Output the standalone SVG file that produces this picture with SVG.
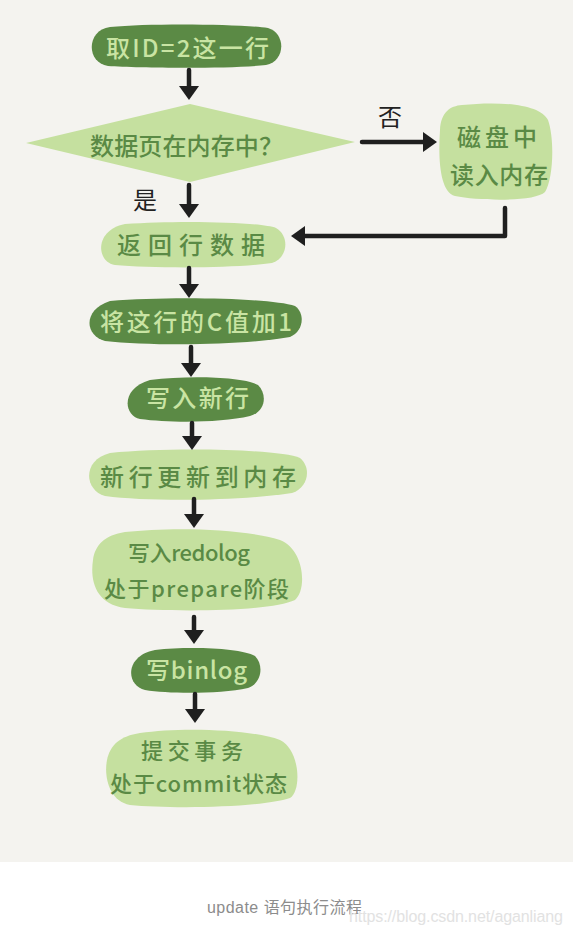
<svg xmlns="http://www.w3.org/2000/svg" width="573" height="936" viewBox="0 0 573 936">
<style>
.dark{fill:#5b8a45}
.light{fill:#c5e09f}
.tl{fill:#c9e4a3;font-family:"Noto Sans CJK SC","Noto Sans",sans-serif;font-size:24px;font-weight:500}
.td{fill:#5a8a45;font-family:"Noto Sans CJK SC","Noto Sans",sans-serif;font-size:24px;font-weight:500}
.sm{font-size:22px}
.lbl{fill:#222;font-family:"Noto Sans CJK SC",sans-serif;font-size:24px}
.conn{fill:none;stroke:#1f1f1f;stroke-width:4.5;stroke-linecap:round;stroke-linejoin:round}
</style>
<defs>
<marker id="ah" viewBox="0 0 14 20" markerWidth="14" markerHeight="20" refX="2" refY="10" markerUnits="userSpaceOnUse" orient="auto">
<path d="M0,0 L14,10 L0,20 Z" fill="#1f1f1f"/>
</marker>
</defs>
<rect x="0" y="0" width="573" height="936" fill="#ffffff"/>
<rect x="0" y="0" width="573" height="862" fill="#f4f3ef"/>

<g id="n1">
<path class="dark" d="M110,27 C150,23 240,24 268,28 C286,33 286,61 266,65 C230,69 140,68 108,66 C86,63 86,30 110,27 Z"/>
<text class="tl" x="106" y="57" textLength="163" lengthAdjust="spacing">取ID=2这一行</text>
</g>
<g id="n2">
<path class="light" d="M26,143 L190,104 L355,142 L190,182 Z"/>
<text class="td" x="90" y="155" textLength="193" lengthAdjust="spacing">数据页在内存中？</text>
</g>
<g id="n3">
<path class="light" d="M462,105 C500,101 540,104 548,120 C555,140 553,180 545,192 C535,202 480,201 455,196 C440,192 438,160 440,130 C441,112 450,106 462,105 Z"/>
<text class="td" x="457" y="146" textLength="80" lengthAdjust="spacing">磁盘中</text>
<text class="td" x="450" y="184" textLength="98" lengthAdjust="spacing">读入内存</text>
</g>
<g id="n4">
<path class="light" d="M125,224 C180,220 260,222 276,228 C290,236 288,258 272,263 C230,269 150,268 115,265 C96,262 94,230 125,224 Z"/>
<text class="td" x="117" y="254" textLength="148" lengthAdjust="spacing">返回行数据</text>
</g>
<g id="n5">
<path class="dark" d="M110,301 C170,296 270,298 295,306 C306,314 303,332 290,337 C240,346 150,346 105,341 C85,336 82,310 110,301 Z"/>
<text class="tl" x="100" y="331" textLength="192" lengthAdjust="spacing">将这行的C值加1</text>
</g>
<g id="n6">
<path class="dark" d="M150,380 C190,375 245,377 258,385 C268,395 265,412 250,416 C220,423 170,423 140,419 C123,415 121,388 150,380 Z"/>
<text class="tl" x="146" y="407" textLength="103" lengthAdjust="spacing">写入新行</text>
</g>
<g id="n7">
<path class="light" d="M110,453 C170,447 280,449 300,458 C312,468 308,488 292,493 C240,501 150,502 105,496 C84,490 82,460 110,453 Z"/>
<text class="td" x="100" y="486" textLength="196" lengthAdjust="spacing">新行更新到内存</text>
</g>
<g id="n8">
<path class="light" d="M125,532 C170,527 240,528 280,540 C305,550 307,590 295,600 C270,612 170,612 125,608 C95,604 90,580 93,560 C95,545 105,535 125,532 Z"/>
<text class="td sm" x="128" y="561" textLength="122" lengthAdjust="spacing">写入redolog</text>
<text class="td sm" x="104" y="597" textLength="185" lengthAdjust="spacing">处于prepare阶段</text>
</g>
<g id="n9">
<path class="dark" d="M155,650 C190,646 240,648 255,656 C264,665 262,683 248,688 C220,694 170,694 145,690 C126,686 124,656 155,650 Z"/>
<text class="tl" x="146" y="679" textLength="101" lengthAdjust="spacing">写binlog</text>
</g>
<g id="n10">
<path class="light" d="M140,733 C180,727 250,729 280,740 C300,750 302,790 290,798 C260,808 170,809 130,805 C108,801 104,775 107,760 C110,745 120,736 140,733 Z"/>
<text class="td sm" x="141" y="759" textLength="102" lengthAdjust="spacing">提交事务</text>
<text class="td sm" x="110" y="792" textLength="177" lengthAdjust="spacing">处于commit状态</text>
</g>

<g id="connectors">
<path class="conn" marker-end="url(#ah)" d="M189,70 V88"/>
<path class="conn" marker-end="url(#ah)" d="M362,142 H425"/>
<path class="conn" marker-end="url(#ah)" d="M189,185 V206"/>
<path class="conn" marker-end="url(#ah)" d="M505,208 V236 H303"/>
<path class="conn" marker-end="url(#ah)" d="M189,268 V286"/>
<path class="conn" marker-end="url(#ah)" d="M191,347 V365"/>
<path class="conn" marker-end="url(#ah)" d="M192,423 V438"/>
<path class="conn" marker-end="url(#ah)" d="M194,499 V516"/>
<path class="conn" marker-end="url(#ah)" d="M194,617 V632"/>
<path class="conn" marker-end="url(#ah)" d="M195,694 V711"/>
<text class="lbl" x="378" y="126">否</text>
<text class="lbl" x="133" y="209">是</text>
</g>

<text x="207" y="913" font-family="Liberation Sans,'Noto Sans CJK SC',sans-serif" font-size="16" fill="#8c8c8c" textLength="155" lengthAdjust="spacing">update 语句执行流程</text>
<text x="349" y="922" font-family="Liberation Sans,sans-serif" font-size="16" fill="#e2e2e2" textLength="214" lengthAdjust="spacing">https://blog.csdn.net/aganliang</text>
</svg>
